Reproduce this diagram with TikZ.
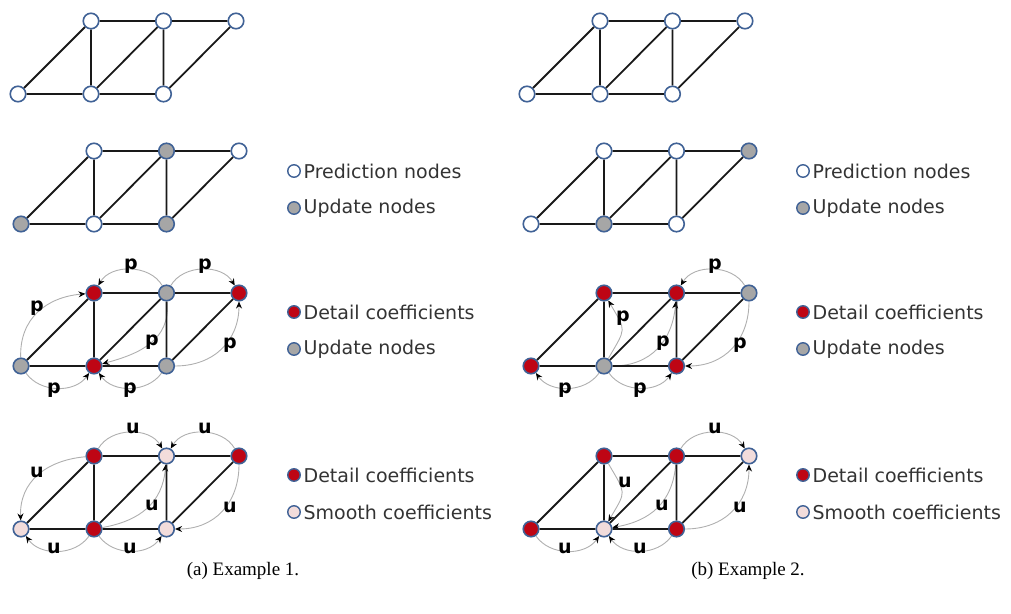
\documentclass[tikz,border=0pt]{standalone}
\usepackage{fontspec}
\usetikzlibrary{arrows.meta}
\newfontfamily\dejavu{DejaVu Sans}
\newfontfamily\capserif{Liberation Serif}
\definecolor{nodeborder}{RGB}{64,98,150}
\definecolor{updgray}{RGB}{166,166,166}
\definecolor{detred}{RGB}{190,5,20}
\definecolor{smopink}{RGB}{242,220,219}
\definecolor{flowgray}{RGB}{175,175,175}
\pgfdeclarelayer{bg}
\pgfsetlayers{bg,main}
\tikzset{
  nd/.style={circle, draw=nodeborder, line width=1.6pt, minimum size=15.5pt, inner sep=0pt},
  pred/.style={nd, fill=white},
  upd/.style={nd, fill=updgray},
  det/.style={nd, fill=detred},
  smo/.style={nd, fill=smopink},
  edgeline/.style={line width=1.8pt, black!90},
  flow/.style={draw=flowgray, line width=0.9pt, -{Stealth[length=7pt,width=6pt,color=black]}},
  lab/.style={font=\dejavu\bfseries\fontsize{19}{21}\selectfont, inner sep=0pt},
  legc/.style={circle, draw=nodeborder, line width=1.4pt, minimum size=12.5pt, inner sep=0pt},
  legtext/.style={font=\dejavu\fontsize{19}{22}\selectfont, anchor=west, inner sep=0pt, text=black!80},
  captext/.style={font=\capserif\fontsize{19}{22}\selectfont, inner sep=0pt}
}
% #1 prefix, #2 x of top-left node, #3 y of top row, #4-#6 top styles, #7-#9 bottom styles
\newcommand\meshrow[9]{%
  \node[#4] (#1t1) at (#2,#3) {};
  \node[#5] (#1t2) at (#2+72.5,#3) {};
  \node[#6] (#1t3) at (#2+145,#3) {};
  \node[#7] (#1b1) at (#2-73,#3-73) {};
  \node[#8] (#1b2) at (#2,#3-73) {};
  \node[#9] (#1b3) at (#2+72.5,#3-73) {};
  \draw[edgeline] (#1b1)--(#1t1) (#1b1)--(#1b2) (#1b2)--(#1b3) (#1t1)--(#1t2)
    (#1t2)--(#1t3) (#1t1)--(#1b2) (#1b2)--(#1t2) (#1t2)--(#1b3) (#1b3)--(#1t3);
}
\newcommand\legentry[4]{%
  \node[legc,#3] (#1) at #2 {};
  \node[legtext] (#1t) at ([xshift=2.5pt]#1.east) {#4};
}
\begin{document}
\begin{tikzpicture}[x=1pt,y=1pt]
\useasboundingbox (0,0) rectangle (1011,613);
% ---------- Example 1 ----------
\meshrow{a1}{91}{592}{pred}{pred}{pred}{pred}{pred}{pred}
\meshrow{a2}{94}{462}{pred}{upd}{pred}{upd}{pred}{upd}
\meshrow{a3}{94}{320}{det}{upd}{det}{upd}{det}{upd}
\meshrow{a4}{94}{157}{det}{smo}{det}{smo}{det}{smo}
% ---------- Example 2 ----------
\meshrow{b1}{600}{592}{pred}{pred}{pred}{pred}{pred}{pred}
\meshrow{b2}{604}{462}{pred}{pred}{upd}{pred}{upd}{pred}
\meshrow{b3}{604}{320}{det}{det}{upd}{det}{upd}{det}
\meshrow{b4}{604}{157}{det}{det}{smo}{det}{smo}{det}
\begin{pgfonlayer}{bg}
% a3 predictions
\draw[flow] (a3b1) to[out=92,in=185,looseness=1.1] (a3t1);
\draw[flow] (a3t2) to[out=120,in=60] (a3t1);
\draw[flow] (a3t2) to[out=60,in=120] (a3t3);
\draw[flow] (a3b1) to[out=-55,in=-125] (a3b2);
\draw[flow] (a3b3) to[out=-125,in=-55] (a3b2);
\draw[flow] (a3t2) to[out=-85,in=15,looseness=1.1] (a3b2);
\draw[flow] (a3b3) to[out=0,in=-90,looseness=1.1] (a3t3);
% a4 updates
\draw[flow] (a4t1) to[out=185,in=92,looseness=1.1] (a4b1);
\draw[flow] (a4b2) to[out=-125,in=-55] (a4b1);
\draw[flow] (a4t1) to[out=60,in=120] (a4t2);
\draw[flow] (a4t3) to[out=120,in=60] (a4t2);
\draw[flow] (a4b2) to[out=10,in=-95,looseness=1.1] (a4t2);
\draw[flow] (a4b2) to[out=-55,in=-125] (a4b3);
\draw[flow] (a4t3) to[out=-90,in=0,looseness=1.1] (a4b3);
% b3 predictions
\draw[flow] (b3b2) to[out=-125,in=-55] (b3b1);
\draw[flow] (b3b2) to[out=-55,in=-125] (b3b3);
\draw[flow] (b3b2) to[out=60,in=-60,looseness=1.6] (b3t1);
\draw[flow] (b3b2) to[out=0,in=-95,looseness=1.1] (b3t2);
\draw[flow] (b3t3) to[out=120,in=60] (b3t2);
\draw[flow] (b3t3) to[out=-90,in=0,looseness=1.1] (b3b3);
% b4 updates
\draw[flow] (b4t1) to[out=-60,in=60,looseness=1.6] (b4b2);
\draw[flow] (b4t2) to[out=-95,in=10,looseness=1.1] (b4b2);
\draw[flow] (b4b1) to[out=-55,in=-125] (b4b2);
\draw[flow] (b4b3) to[out=-125,in=-55] (b4b2);
\draw[flow] (b4t2) to[out=60,in=120] (b4t3);
\draw[flow] (b4b3) to[out=0,in=-90,looseness=1.1] (b4t3);
\end{pgfonlayer}
% labels a3
\node[lab] (pa1) at (37,305) {p};
\node[lab] (pa2) at (131,347) {p};
\node[lab] (pa3) at (205,347) {p};
\node[lab] (pa4) at (54,223) {p};
\node[lab] (pa5) at (130,223) {p};
\node[lab] (pa6) at (152,271) {p};
\node[lab] (pa7) at (230,268) {p};
% labels a4
\node[lab] (ua1) at (37,141) {u};
\node[lab] (ua2) at (54,65) {u};
\node[lab] (ua3) at (133,185) {u};
\node[lab] (ua4) at (205,185) {u};
\node[lab] (ua5) at (152,108) {u};
\node[lab] (ua6) at (130,65) {u};
\node[lab] (ua7) at (230,106) {u};
% labels b3
\node[lab] (pb1) at (565,223) {p};
\node[lab] (pb2) at (640,223) {p};
\node[lab] (pb3) at (623,295) {p};
\node[lab] (pb4) at (663,270) {p};
\node[lab] (pb5) at (715,347) {p};
\node[lab] (pb6) at (740,268) {p};
% labels b4
\node[lab] (ub1) at (625,131) {u};
\node[lab] (ub2) at (662,108) {u};
\node[lab] (ub3) at (565,65) {u};
\node[lab] (ub4) at (640,65) {u};
\node[lab] (ub5) at (715,185) {u};
\node[lab] (ub6) at (740,106) {u};
% legends example 1
\legentry{la1}{(294,442)}{fill=white}{Prediction nodes}
\legentry{la2}{(294,405)}{fill=updgray}{Update nodes}
\legentry{la3}{(294,301)}{fill=detred}{Detail coefficients}
\legentry{la4}{(294,264)}{fill=updgray}{Update nodes}
\legentry{la5}{(294,138)}{fill=detred}{Detail coefficients}
\legentry{la6}{(294,101)}{fill=smopink}{Smooth coefficients}
% legends example 2
\legentry{lb1}{(803,442)}{fill=white}{Prediction nodes}
\legentry{lb2}{(803,405)}{fill=updgray}{Update nodes}
\legentry{lb3}{(803,301)}{fill=detred}{Detail coefficients}
\legentry{lb4}{(803,264)}{fill=updgray}{Update nodes}
\legentry{lb5}{(803,138)}{fill=detred}{Detail coefficients}
\legentry{lb6}{(803,101)}{fill=smopink}{Smooth coefficients}
% captions
\node[captext] (capa) at (243,42) {(a) Example 1.};
\node[captext] (capb) at (748,42) {(b) Example 2.};
\end{tikzpicture}
\end{document}
